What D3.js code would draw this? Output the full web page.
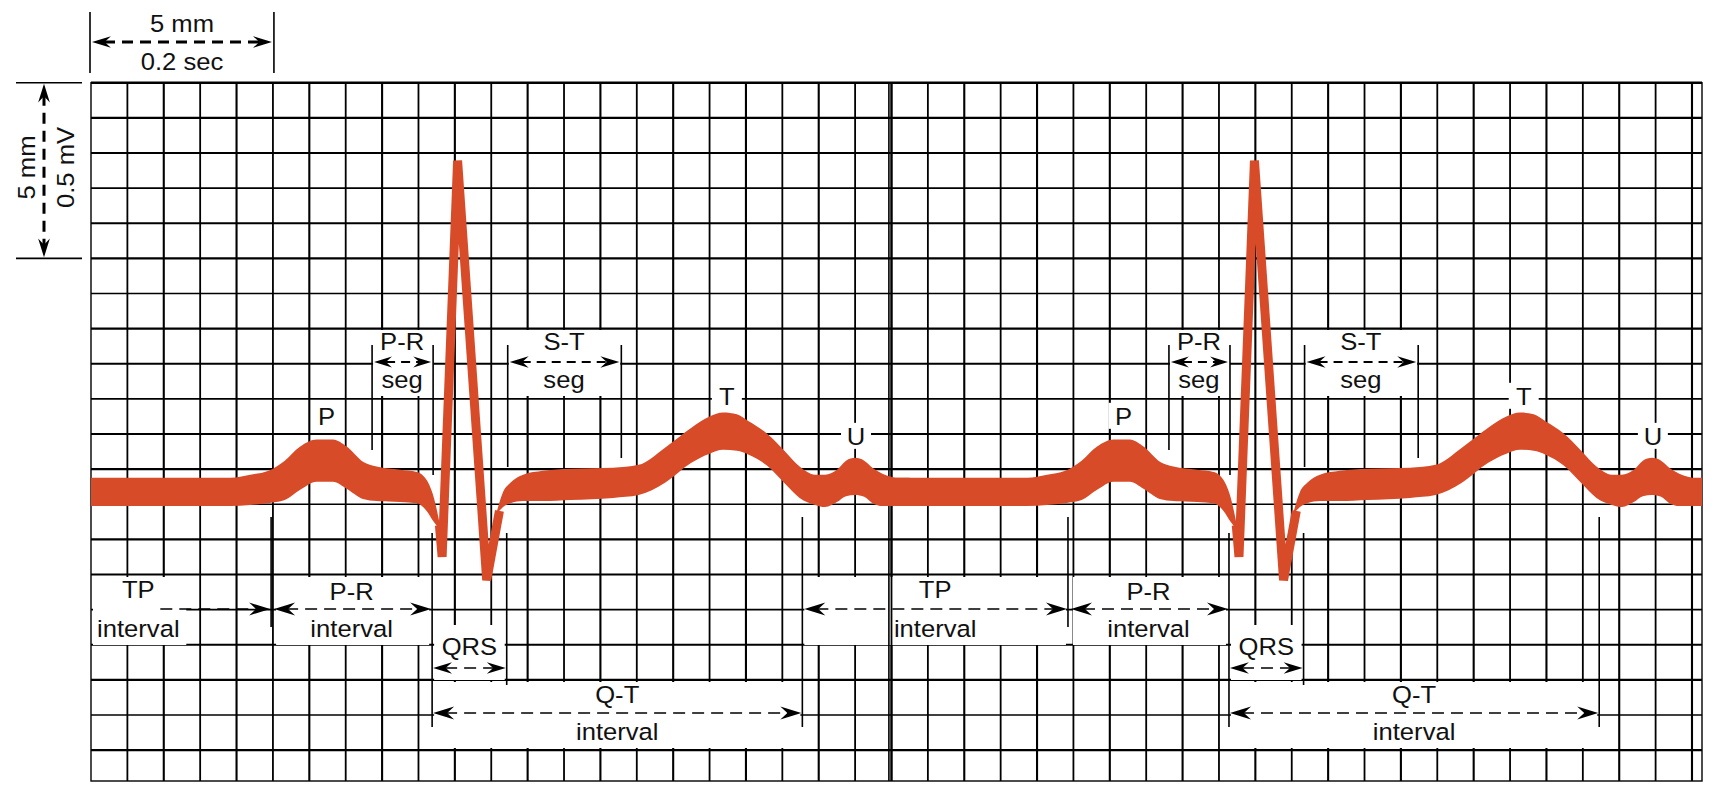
<!DOCTYPE html>
<html>
<head>
<meta charset="utf-8">
<script src="https://cdn.jsdelivr.net/npm/d3@7"></script>
<style>
html, body { margin: 0; padding: 0; background: #fff; }
svg { display: block; }
text { font-family: "Liberation Sans", Arial, Helvetica, sans-serif; font-size: 23.5px; fill: #111; }
</style>
</head>
<body>
<svg id="chart" width="1713" height="792"></svg>
<script>
// ---------------- DATA ----------------
// paper extent (seconds, mV relative to baseline)
const paperTime = [0, 1.771];
const paperMv = [-0.823, 1.165];
const gridStepTime = 0.04;   // 1 mm
const gridStepMv = 0.1;      // 1 mm

// beat onsets (s)
const beatOnsets = [0, 0.876];

// trace band before QRS: time (s), upper edge (mV), lower edge (mV)
const bandTimeA  = [0, 0.153, 0.175, 0.195, 0.213, 0.230, 0.248, 0.266, 0.281, 0.299, 0.314, 0.340, 0.358, 0.369, 0.377, 0.384];
const bandUpperA = [0.040, 0.040, 0.049, 0.060, 0.089, 0.129, 0.149, 0.149, 0.129, 0.086, 0.072, 0.063, 0.057, 0.034, -0.017, -0.100];
const bandLowerA = [-0.040, -0.040, -0.037, -0.032, -0.023, 0.006, 0.029, 0.029, 0.009, -0.020, -0.026, -0.029, -0.032, -0.054, -0.086, -0.109];

// trace band after QRS (S-T segment, T wave, U wave, baseline)
const bandTimeB  = [0.446, 0.453, 0.461, 0.475, 0.497, 0.527, 0.574, 0.602, 0.631, 0.660, 0.680, 0.695, 0.710, 0.723, 0.743, 0.763, 0.779, 0.796, 0.807, 0.820, 0.830, 0.840, 0.850, 0.859, 0.870, 0.889, 0.900];
const bandUpperB = [-0.057, 0, 0.026, 0.049, 0.060, 0.066, 0.069, 0.077, 0.126, 0.183, 0.215, 0.226, 0.221, 0.201, 0.166, 0.115, 0.072, 0.049, 0.049, 0.063, 0.089, 0.097, 0.089, 0.069, 0.052, 0.040, 0.040];
const bandLowerB = [-0.063, -0.043, -0.032, -0.026, -0.026, -0.023, -0.017, -0.009, 0.026, 0.083, 0.109, 0.120, 0.117, 0.106, 0.075, 0.023, -0.017, -0.037, -0.043, -0.029, -0.012, -0.009, -0.014, -0.032, -0.040, -0.040, -0.040];

// QRS complex (thin line)
const qrsTime  = [0.383, 0.386, 0.403, 0.435, 0.449];
const qrsValue = [-0.095, -0.185, 0.943, -0.251, -0.054];

// wave labels
const waveNames = ["P", "T", "U"];
const waveTimes = [0.259, 0.699, 0.841];
const waveLabelMv = [0.191, 0.248, 0.134];

// interval boundaries within a beat (s)
const eventNames = ["pOnset", "pOffset", "qrsOnset", "qrsOffset", "tOnset", "tOffset"];
const eventTimes = [0.198, 0.309, 0.375, 0.457, 0.583, 0.782];

// calibration
const calTime = 0.2, calMv = 0.5;
const calTimeLabels = ["5 mm", "0.2 sec"];
const calMvLabels = ["5 mm", "0.5 mV"];

// ---------------- DRAW ----------------
const svg = d3.select("#chart");
const x = d3.scaleLinear().domain(paperTime).range([91, 1702]);
const y = d3.scaleLinear().domain(paperMv).range([781, 82.7]);
const X0 = x(paperTime[0]), X1 = x(paperTime[1]);
const Y0 = y(paperMv[1]), Y1 = y(paperMv[0]);
const TRACE = "#d84b29";

// grid
const gridG = svg.append("g").attr("stroke", "#000");
const nV = Math.floor((paperTime[1] - paperTime[0]) / gridStepTime + 1e-6);
d3.range(1, nV + 1).forEach(k => {
  const xx = x(k * gridStepTime);
  gridG.append("line").attr("x1", xx).attr("x2", xx).attr("y1", Y0).attr("y2", Y1)
    .attr("stroke-width", k % 2 ? 1.8 : 2.1);
});
const nH = Math.floor((paperMv[1] - paperMv[0]) / gridStepMv + 1e-6);
d3.range(1, nH + 1).forEach(k => {
  const yy = y(paperMv[1] - k * gridStepMv);
  gridG.append("line").attr("x1", X0).attr("x2", X1).attr("y1", yy).attr("y2", yy)
    .attr("stroke-width", k % 3 === 0 ? 1.6 : 2.1);
});
// frame
gridG.append("rect").attr("x", X0).attr("y", Y0).attr("width", X1 - X0).attr("height", Y1 - Y0)
  .attr("fill", "none").attr("stroke-width", 1.4);
gridG.append("line").attr("x1", X0).attr("x2", X1).attr("y1", Y0).attr("y2", Y0).attr("stroke-width", 2.4);

// helpers
const boxG = svg.append("g").attr("fill", "#fff");
const seamG = svg.append("g").attr("stroke", "#000");
const traceG = svg.append("g");
const annG = svg.append("g");
function box(xa, ya, xb, yb) {
  boxG.append("rect").attr("x", Math.min(xa, xb)).attr("y", ya).attr("width", Math.abs(xb - xa)).attr("height", yb - ya);
}
function label(txt, cx, by, rot) {
  annG.append("text")
    .attr("transform", `translate(${cx},${by})${rot ? ` rotate(${rot})` : ""} scale(1.09,1)`)
    .attr("text-anchor", "middle").text(txt);
}
function head(tx, ty, angle, s) {
  s = s || 1;
  annG.append("path").attr("d", `M0,0 L${-21*s},${-6.5*s} L${-14*s},0 L${-21*s},${6.5*s} Z`)
    .attr("transform", `translate(${tx},${ty}) rotate(${angle})`).attr("fill", "#000");
}
function hArrow(xa, xb, yy, o) {
  o = Object.assign({ left: true, right: true, w: 1.6, dash: "12,7" }, o || {});
  annG.append("line").attr("x1", xa + (o.left ? 12 : 0)).attr("x2", xb - (o.right ? 12 : 0))
    .attr("y1", yy).attr("y2", yy).attr("stroke", "#000").attr("stroke-width", o.w).attr("stroke-dasharray", o.dash);
  if (o.left) head(xa, yy, 180, o.s);
  if (o.right) head(xb, yy, 0, o.s);
}
function vLine(xx, ya, yb, w) {
  annG.append("line").attr("x1", xx).attr("x2", xx).attr("y1", ya).attr("y2", yb)
    .attr("stroke", "#000").attr("stroke-width", w || 1.6);
}
function hLine(xa, xb, yy, w) {
  annG.append("line").attr("x1", xa).attr("x2", xb).attr("y1", yy).attr("y2", yy)
    .attr("stroke", "#000").attr("stroke-width", w || 1.6);
}

// seam between the two paper strips (drawn over label boxes)
const seamX = x(22 * gridStepTime);
seamG.append("line").attr("x1", seamX - 2.6).attr("x2", seamX - 2.6).attr("y1", Y0).attr("y2", Y1).attr("stroke-width", 1.6);
seamG.append("line").attr("x1", seamX).attr("x2", seamX).attr("y1", Y0).attr("y2", Y1).attr("stroke-width", 1.8);

// calibration marks
const cx0 = x(0), cx1 = x(calTime);
vLine(cx0 - 1, 12, 73, 1.6); vLine(cx1 + 1, 12, 73, 1.6);
hArrow(cx0 + 1, cx1 - 1, 42, { w: 3, dash: "11,7", s: 0.9 });
label(calTimeLabels[0], (cx0 + cx1) / 2, 32);
label(calTimeLabels[1], (cx0 + cx1) / 2, 70);
const cy0 = y(paperMv[1]), cy1 = y(paperMv[1] - calMv);
hLine(16, 82, cy0, 1.6); hLine(16, 82, cy1, 1.6);
annG.append("line").attr("x1", 44).attr("x2", 44).attr("y1", cy0 + 12).attr("y2", cy1 - 12)
  .attr("stroke", "#000").attr("stroke-width", 3).attr("stroke-dasharray", "11,7");
head(44, cy0 + 1, -90, 0.9); head(44, cy1 - 1, 90, 0.9);
label(calMvLabels[0], 35, (cy0 + cy1) / 2 - 3, -90);
label(calMvLabels[1], 74, (cy0 + cy1) / 2 - 3, -90);

// trace
const clipId = "paperClip";
svg.append("clipPath").attr("id", clipId).append("rect")
  .attr("x", X0).attr("y", Y0).attr("width", X1 - X0).attr("height", Y1 - Y0);
traceG.attr("clip-path", `url(#${clipId})`);
const area = d3.area().x(d => x(d.t)).y0(d => y(d.lo)).y1(d => y(d.hi)).curve(d3.curveMonotoneX);
const line = d3.line().x(d => x(d.t)).y(d => y(d.v));

const ev = (b, name) => b + eventTimes[eventNames.indexOf(name)];

beatOnsets.forEach((b, bi) => {
  // ---- white label boxes ----
  const pOn = x(ev(b, "pOnset")), pOff = x(ev(b, "pOffset")), qOn = x(ev(b, "qrsOnset")),
        qOff = x(ev(b, "qrsOffset")), tOn = x(ev(b, "tOnset")), tOff = x(ev(b, "tOffset"));
  const prevT = ev(b, "tOffset") - beatOnsets[1];
  const prevVisible = prevT >= paperTime[0];
  const tpStart = prevVisible ? x(prevT) : x(paperTime[0]);
  const tpMid = (x(prevT) + pOn) / 2;

  box(pOff + 1, 330, qOn + 1, 396);         // P-R seg
  box(qOff + 2, 330, tOn - 1, 396);         // S-T seg
  box(tpStart + 2, 577, prevVisible ? pOn - 2 : tpMid + 48, 645); // TP interval
  box(pOn + 5, 577, qOn - 3, 645);          // P-R interval
  box(qOn + 2, 625, qOff - 2, 680);         // QRS
  box(qOn + 2, 682, tOff - 2, 748);         // Q-T interval
  waveNames.forEach((n, i) => {
    const wx = x(b + waveTimes[i]), wy = y(waveLabelMv[i]);
    box(wx - 15, wy - 22, wx + 15, wy + 4);
  });

  // ---- trace ----
  traceG.append("path")
    .datum(bandTimeA.map((t, i) => ({ t: t + b, hi: bandUpperA[i], lo: bandLowerA[i] })))
    .attr("d", area).attr("fill", TRACE);
  traceG.append("path")
    .datum(bandTimeB.map((t, i) => ({ t: t + b, hi: bandUpperB[i], lo: bandLowerB[i] })))
    .attr("d", area).attr("fill", TRACE);
  traceG.append("path")
    .datum(qrsTime.map((t, i) => ({ t: t + b, v: qrsValue[i] })))
    .attr("d", line).attr("fill", "none").attr("stroke", TRACE).attr("stroke-width", 9)
    .attr("stroke-linejoin", "bevel");

  // ---- ticks ----
  vLine(pOff, 345, 450); vLine(qOn + 1, 345, 475);
  vLine(qOff + 1, 345, 467); vLine(tOn, 345, 458);
  vLine(pOn, 517, 627); vLine(qOn, 533, 727);
  vLine(qOff, 533, 685); vLine(tOff, 517, 727);

  // ---- arrows ----
  hArrow(pOff + 2, qOn - 1, 362, { w: 2.2, dash: "9,6", s: 0.85 });
  hArrow(qOff + 3, tOn - 2, 362, { w: 2.2, dash: "9,6", s: 0.9 });
  hArrow(prevVisible ? x(prevT) + 2 : tpMid + 22, pOn - 1, 609, { left: prevVisible });
  hArrow(pOn + 3, qOn - 1, 609);
  hArrow(qOn + 1, qOff - 1, 668, { s: 0.9 });
  hArrow(qOn + 1, tOff - 1, 713);

  // ---- texts ----
  label("P-R", (pOff + qOn) / 2, 350);
  label("seg", (pOff + qOn) / 2, 388);
  label("S-T", (qOff + tOn) / 2, 350);
  label("seg", (qOff + tOn) / 2, 388);
  label("TP", tpMid, 598);
  label("interval", tpMid, 637);
  label("P-R", (pOn + qOn) / 2, 600);
  label("interval", (pOn + qOn) / 2, 637);
  label("QRS", (qOn + qOff) / 2, 655);
  label("Q-T", (qOn + tOff) / 2, 703);
  label("interval", (qOn + tOff) / 2, 740);
  waveNames.forEach((n, i) => label(n, x(b + waveTimes[i]), y(waveLabelMv[i])));
});
</script>
</body>
</html>
